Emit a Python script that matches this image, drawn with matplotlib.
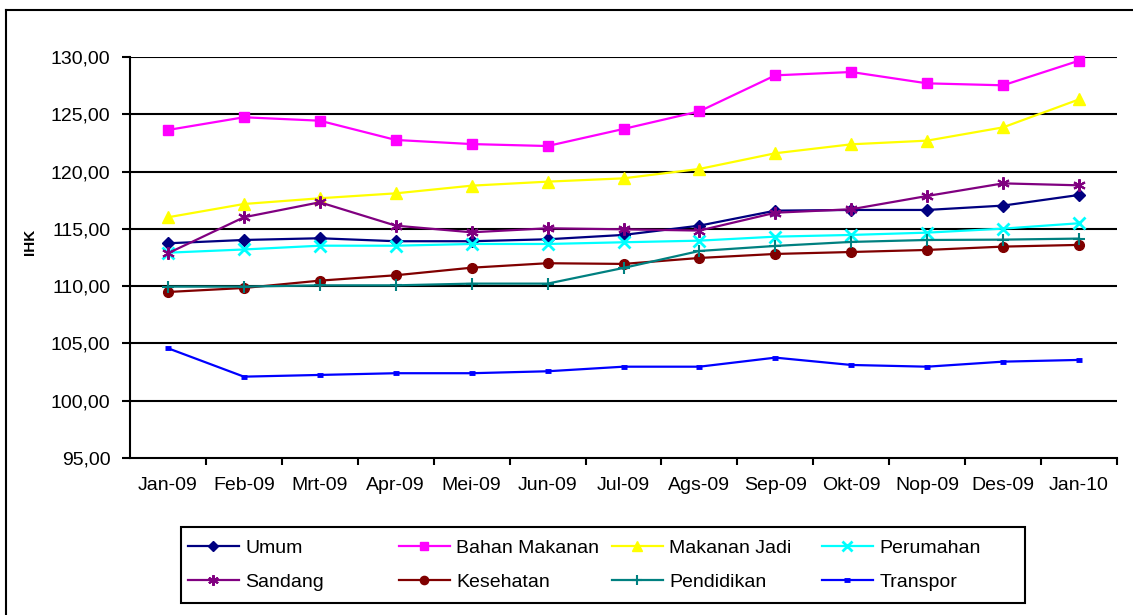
import matplotlib
matplotlib.use("Agg")
import matplotlib.pyplot as plt
from matplotlib.lines import Line2D
from matplotlib.ticker import FixedLocator, FuncFormatter

plt.rcParams['font.family'] = ['Liberation Sans', 'DejaVu Sans']

bulan = ["Jan-09", "Feb-09", "Mrt-09", "Apr-09", "Mei-09", "Jun-09", "Jul-09",
         "Ags-09", "Sep-09", "Okt-09", "Nop-09", "Des-09", "Jan-10"]

umum = [113.74, 114.03, 114.18, 113.92, 113.92, 114.09, 114.47, 115.28, 116.59, 116.65, 116.65, 117.03, 117.96]
bahan_makanan = [123.63, 124.74, 124.44, 122.76, 122.40, 122.23, 123.72, 125.26, 128.40, 128.69, 127.70, 127.53, 129.68]
makanan_jadi = [116.01, 117.17, 117.67, 118.10, 118.77, 119.12, 119.41, 120.23, 121.60, 122.38, 122.70, 123.86, 126.30]
perumahan = [112.92, 113.20, 113.53, 113.53, 113.68, 113.68, 113.83, 113.97, 114.32, 114.47, 114.67, 115.02, 115.49]
sandang = [112.87, 116.01, 117.32, 115.28, 114.70, 115.05, 114.96, 114.85, 116.41, 116.71, 117.87, 118.97, 118.80]
kesehatan = [109.49, 109.84, 110.48, 110.95, 111.61, 112.00, 111.94, 112.46, 112.81, 112.98, 113.16, 113.45, 113.60]
pendidikan = [109.96, 109.96, 110.07, 110.07, 110.22, 110.22, 111.59, 113.07, 113.51, 113.86, 114.03, 114.06, 114.15]
transpor = [104.58, 102.10, 102.25, 102.40, 102.40, 102.57, 102.97, 102.97, 103.76, 103.12, 102.97, 103.41, 103.56]

series = [
    ("Umum", umum, "#000080", "D", 6.5, 1.0),
    ("Bahan Makanan", bahan_makanan, "#FF00FF", "s", 7.5, 1.0),
    ("Makanan Jadi", makanan_jadi, "#FFFF00", "^", 8.5, 1.0),
    ("Perumahan", perumahan, "#00FFFF", "x", 8, 2.0),
    ("Sandang", sandang, "#800080", (6, 2, 0), 9, 1.5),
    ("Kesehatan", kesehatan, "#800000", "o", 7, 1.0),
    ("Pendidikan", pendidikan, "#008080", "+", 9, 1.5),
    ("Transpor", transpor, "#0000FF", "_", 5, 3.5),
]

W, H = 1133, 615
fig = plt.figure(figsize=(W / 100, H / 100), dpi=100)
ax = fig.add_axes([130 / W, 1 - 458 / H, (1117 - 130) / W, (458 - 57) / H])

x = list(range(len(bulan)))
handles = {}
for name, vals, col, mk, ms, mew in series:
    ln, = ax.plot(x, vals, color=col, lw=1.6, marker=mk, markersize=ms,
                  markerfacecolor=col, markeredgecolor=col, markeredgewidth=mew,
                  label=name, clip_on=False, zorder=3)
    handles[name] = ln

ax.set_xlim(-0.5, len(bulan) - 0.5)
ax.set_ylim(95, 130)
ax.set_yticks([95, 100, 105, 110, 115, 120, 125, 130])
ax.yaxis.set_major_formatter(FuncFormatter(lambda v, p: f"{v:.2f}".replace(".", ",")))
ax.set_xticks(x)
ax.set_xticklabels(bulan)
ax.xaxis.set_minor_locator(FixedLocator([i + 0.5 for i in range(len(bulan))]))
ax.tick_params(axis='x', which='major', length=0, pad=14, labelsize=14)
ax.tick_params(axis='x', which='minor', length=5, width=1.5, direction='out')
ax.tick_params(axis='y', length=6, width=1.5, direction='out', pad=8, labelsize=14)

for s in ['top', 'right']:
    ax.spines[s].set_visible(False)
for s in ['left', 'bottom']:
    ax.spines[s].set_linewidth(1.5)

for v in [100, 105, 110, 115, 120, 125, 130]:
    ax.axhline(v, color='black', lw=1.5, zorder=1)

ax.set_ylabel("IHK", fontsize=11, fontweight='bold')
ax.yaxis.set_label_coords(-0.094, 0.54)

# outer chart border (only left and top visible in reference)
fig.add_artist(Line2D([6 / W, 6 / W], [0, 1 - 10 / H], transform=fig.transFigure, color='black', lw=1.5))
fig.add_artist(Line2D([6 / W, 1], [1 - 10 / H, 1 - 10 / H], transform=fig.transFigure, color='black', lw=1.5))

# legend frame
fig.add_artist(plt.Rectangle((181 / W, 1 - 603 / H), (1025 - 181) / W, (603 - 527) / H,
                             transform=fig.transFigure, fill=False, edgecolor='black', lw=1.5))

columns = [("Umum", "Sandang"), ("Bahan Makanan", "Kesehatan"),
           ("Makanan Jadi", "Pendidikan"), ("Perumahan", "Transpor")]
col_x = [188, 399, 612, 822]
for cx, names in zip(col_x, columns):
    fig.legend([handles[n] for n in names], list(names), loc='center left',
               bbox_to_anchor=(cx / W, 1 - 565 / H), frameon=False,
               fontsize=14, handlelength=2.6, handletextpad=0.35,
               labelspacing=0.85, borderpad=0, borderaxespad=0, markerscale=0.85)

fig.savefig("out.png", dpi=100)
